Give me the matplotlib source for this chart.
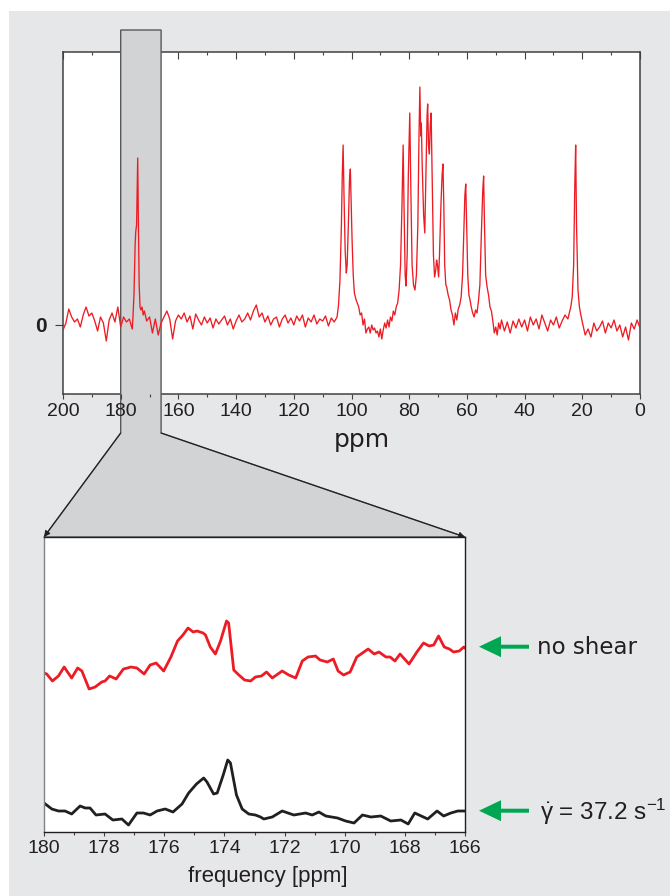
import matplotlib
matplotlib.use('Agg')
import matplotlib.pyplot as plt
from matplotlib.patches import Rectangle, Polygon, FancyArrow, FancyArrowPatch
from matplotlib.ticker import MultipleLocator

plt.rcParams['font.family'] = ['Liberation Sans', 'DejaVu Sans']
plt.rcParams['mathtext.fontset'] = 'custom'
plt.rcParams['mathtext.rm'] = 'Liberation Sans'
plt.rcParams['mathtext.it'] = 'Liberation Sans'

# ---------------- data ----------------
ppm_top = [200, 199, 198, 197, 196, 195, 194, 193, 192, 191,
           190, 189, 188, 187, 186, 185, 184, 183, 182, 181,
           180, 179, 178, 177, 176, 175.8, 175.4, 175.0, 174.8, 174.5,
           174.25, 174.1, 173.9, 173.6, 173.3, 173.0, 172.6, 172.2, 171.8, 171.0,
           170, 169, 168, 167, 166, 165, 164, 163, 162, 161,
           160, 159, 158, 157, 156, 155, 154, 153, 152, 151,
           150, 149, 148, 147, 146, 145, 144, 143, 142, 141,
           140, 139, 138, 137, 136, 135, 134, 133, 132, 131,
           130, 129, 128, 127, 126, 125, 124, 123, 122, 121,
           120, 119, 118, 117, 116, 115, 114, 113, 112, 111,
           110, 109, 108, 107, 106, 105, 104.5, 104.0, 103.5, 103.2,
           102.9, 102.6, 102.2, 101.8, 101.5, 101.0, 100.7, 100.4, 100.1, 99.8,
           99.4, 99.0, 98.5, 98.0, 97.5, 97.0, 96.5, 96.0, 95.5, 95.0,
           94.5, 94.0, 93.5, 93.0, 92.5, 92.0, 91.5, 91.0, 90.5, 90.0,
           89.5, 89.0, 88.5, 88.0, 87.5, 87.0, 86.5, 86.0, 85.5, 85.0,
           84.5, 84.0, 83.5, 83.0, 82.5, 82.1, 81.8, 81.4, 81.1, 80.7,
           80.3, 79.8, 79.4, 79.0, 78.5, 78.0, 77.5, 77.0, 76.6, 76.3,
           76.0, 75.8, 75.5, 75.0, 74.6, 74.2, 73.8, 73.6, 73.3, 73.0,
           72.7, 72.4, 72.0, 71.6, 71.2, 70.8, 70.5, 70.2, 69.8, 69.5,
           69.0, 68.6, 68.3, 68.0, 67.7, 67.3, 67.0, 66.5, 66.0, 65.5,
           65.0, 64.5, 64.0, 63.5, 63.0, 62.5, 62.0, 61.5, 61.0, 60.7,
           60.4, 60.1, 59.7, 59.3, 58.9, 58.5, 58.0, 57.5, 57.0, 56.5,
           56.0, 55.5, 55.0, 54.5, 54.2, 53.9, 53.5, 53.0, 52.5, 52.0,
           51.5, 51.0, 50.5, 50.0, 49.5, 49.0, 48.5, 48, 47, 46,
           45, 44, 43, 42, 41, 40, 39, 38, 37, 36,
           35, 34, 33, 32, 31, 30, 29, 28, 27, 26,
           25, 24.5, 24.0, 23.5, 23.0, 22.6, 22.3, 22.0, 21.5, 21.0,
           20.5, 20, 19, 18, 17, 16, 15, 14, 13, 12,
           11, 10, 9, 8, 7, 6, 5, 4, 3, 2,
           1, 0]
int_top = [-5, 2, 16, 8, 3, 6, -2, 10, 18, 9,
           12, 4, -6, 8, 2, -16, 5, 12, 3, 18,
           -2, 8, 3, 6, -4, 5, 30, 80, 93, 100,
           140, 167, 110, 40, 18, 15, 18, 10, 14, 4,
           8, -8, 6, -10, 2, 8, 14, 6, -14, 4,
           10, 6, 12, 3, 9, -4, 11, 5, 0, 8,
           2, 7, -3, 6, 1, 5, 9, 0, 6, -4,
           4, 10, 3, 6, 12, 5, 14, 20, 8, 12,
           3, 9, 0, 6, 8, -2, 6, 10, 2, 7,
           0, 9, 4, 10, -2, 7, 3, 10, 1, 6,
           4, 9, -1, 7, 3, 8, 20, 45, 100, 150,
           180, 130, 75, 52, 60, 110, 145, 156, 120, 85,
           50, 32, 26, 22, 18, 10, 12, 0, 6, -8,
           -4, -2, -8, 0, -5, -3, -8, -6, -12, -4,
           -14, -5, 2, -3, 5, -2, 8, 4, 14, 10,
           18, 22, 35, 60, 120, 180, 120, 50, 39, 70,
           150, 212, 130, 60, 40, 35, 50, 100, 190, 238,
           189, 202, 160, 110, 92, 150, 210, 221, 180, 171,
           200, 212, 140, 70, 48, 55, 65, 60, 48, 70,
           120, 150, 161, 120, 60, 40, 38, 30, 25, 15,
           10, 0, 12, 5, 16, 20, 28, 50, 100, 130,
           141, 100, 50, 30, 25, 18, 12, 8, 15, 12,
           24, 40, 90, 135, 149, 100, 50, 38, 30, 18,
           14, 4, -8, -2, -10, 2, -4, 5, -6, 3,
           -8, 4, -3, 6, -2, 5, -6, 8, 0, 6,
           -4, 10, 2, -6, 5, 0, 8, -3, 4, 10,
           6, 12, 18, 28, 60, 140, 180, 100, 35, 18,
           10, 3, -10, -4, -12, 2, -6, -2, 4, -8,
           2, -3, 5, -6, 0, -12, -2, -15, 2, -4,
           5, -3]

ppm_red = [180.0, 179.91, 179.72, 179.52, 179.33, 179.08, 178.88, 178.74, 178.5, 178.3,
           178.08, 177.97, 177.82, 177.6, 177.36, 177.22, 177.11, 176.91, 176.67, 176.47,
           176.27, 176.02, 175.78, 175.56, 175.38, 175.21, 175.04, 174.91, 174.71, 174.63,
           174.47, 174.3, 174.13, 173.93, 173.86, 173.69, 173.52, 173.33, 173.13, 172.97,
           172.77, 172.6, 172.41, 172.08, 171.86, 171.63, 171.41, 171.22, 170.97, 170.82,
           170.58, 170.38, 170.22, 170.04, 169.82, 169.6, 169.41, 169.22, 169.02, 168.86,
           168.63, 168.49, 168.33, 168.16, 167.86, 167.6, 167.38, 167.19, 167.04, 166.88,
           166.69, 166.52, 166.38, 166.19, 166.04, 166.0]
int_red = [157, 156, 149, 154, 163, 152, 162, 159, 141, 143,
           148, 149, 154, 151, 161, 162, 163, 162, 156, 165,
           167, 159, 173, 189, 195, 202, 198, 199, 197, 195,
           183, 176, 189, 209, 207, 160, 155, 150, 149, 153,
           154, 158, 152, 159, 155, 152, 169, 173, 174, 170,
           168, 171, 159, 155, 158, 173, 177, 181, 176, 178,
           173, 173, 169, 176, 166, 178, 187, 184, 185, 194,
           183, 181, 178, 179, 183, 182]

ppm_blk = [180.0, 179.74, 179.52, 179.3, 179.08, 178.8, 178.63, 178.47, 178.27, 177.97,
           177.71, 177.41, 177.19, 176.91, 176.69, 176.47, 176.24, 175.97, 175.71, 175.41,
           175.19, 174.93, 174.69, 174.58, 174.36, 174.24, 174.04, 173.89, 173.8, 173.6,
           173.41, 173.19, 172.97, 172.8, 172.69, 172.41, 172.08, 171.69, 171.3, 171.08,
           170.86, 170.63, 170.24, 169.97, 169.69, 169.41, 169.13, 168.8, 168.47, 168.13,
           167.89, 167.67, 167.24, 166.93, 166.71, 166.47, 166.24, 166.0]
int_blk = [27, 21, 19, 19, 16, 24, 22, 22, 15, 16,
           10, 11, 5, 17, 17, 15, 19, 21, 18, 26,
           37, 46, 52, 48, 36, 37, 55, 70, 67, 35,
           21, 16, 15, 13, 11, 13, 19, 15, 17, 15,
           18, 14, 12, 9, 7, 15, 13, 14, 9, 10,
           6, 17, 11, 19, 14, 17, 19, 19]

top_ticks = [200, 180, 160, 140, 120, 100, 80, 60, 40, 20, 0]
bot_ticks = [180, 178, 176, 174, 172, 170, 168, 166]
zoom_range = (180, 166)
label_top = 'ppm'
label_bot = 'frequency [ppm]'
label_red = 'no shear'
label_blk = r'$\dot{\gamma}$ = 37.2 s$^{-1}$'

# ---------------- style ----------------
RED = '#ed1c24'
BLK = '#231f20'
GREEN = '#00a651'
BG = '#e6e7e8'
BAND = '#d1d3d4'
SPINE = '#414042'

W, H = 670, 896
fig = plt.figure(figsize=(W / 100, H / 100), dpi=100)
fig.patch.set_facecolor('white')

ax_bg = fig.add_axes([0, 0, 1, 1], zorder=0)
ax_bg.set_xlim(0, W)
ax_bg.set_ylim(H, 0)
ax_bg.axis('off')
ax_bg.add_patch(Rectangle((9, 11), W, H, fc=BG, ec='none'))


def frac(l, t, r, b):
    return [l / W, 1 - b / H, (r - l) / W, (b - t) / H]


ax_top = fig.add_axes(frac(63, 52, 640, 394), zorder=1)
ax_bot = fig.add_axes(frac(44, 537, 465, 832), zorder=2)

# ---- top spectrum ----
ax_top.plot(ppm_top, int_top, color=RED, lw=0.95, zorder=3)
ax_top.set_xlim(200, 0)
ax_top.set_ylim(-69, 273)
ax_top.set_xticks(top_ticks)
ax_top.set_xticklabels([str(t) for t in top_ticks])
ax_top.xaxis.set_minor_locator(MultipleLocator(10))
ax_top.tick_params(axis='x', which='major', direction='out', length=3.6, width=0.8,
                   labelsize=14, pad=3, colors=SPINE, labelcolor=BLK)
ax_top.tick_params(axis='x', which='minor', direction='out', length=2, width=0.8, colors=SPINE)
ax_top.set_yticks([0])
ax_top.set_yticklabels(['0'], fontsize=15, fontweight='bold')
ax_top.tick_params(axis='y', direction='out', length=5.8, width=0.8, pad=6,
                   colors=SPINE, labelcolor=BLK)
ax_top.set_axisbelow(False)
for s in ax_top.spines.values():
    s.set_linewidth(1.1)
    s.set_color(SPINE)
    s.set_zorder(2)

sec = ax_top.secondary_xaxis('top')
sec.set_xticks(top_ticks)
sec.xaxis.set_minor_locator(MultipleLocator(10))
sec.tick_params(axis='x', which='major', direction='in', length=4.8, width=0.8,
                labeltop=False, colors=SPINE)
sec.tick_params(axis='x', which='minor', direction='in', length=2.2, width=0.8, colors=SPINE)
sec.spines['top'].set_visible(False)
sec.set_zorder(2)

# ---- zoom panel ----
ax_bot.plot(ppm_red, int_red, color=RED, lw=2.0, solid_joinstyle='round')
ax_bot.plot(ppm_blk, int_blk, color=BLK, lw=2.0, solid_joinstyle='round')
ax_bot.set_xlim(*zoom_range)
ax_bot.set_ylim(-2, 293)
ax_bot.set_yticks([])
ax_bot.set_xticks(bot_ticks)
ax_bot.set_xticklabels([str(t) for t in bot_ticks])
ax_bot.xaxis.set_minor_locator(MultipleLocator(1))
ax_bot.tick_params(axis='x', which='major', direction='out', length=3, width=0.8,
                   labelsize=14, pad=2.5, colors=SPINE, labelcolor=BLK)
ax_bot.tick_params(axis='x', which='minor', direction='out', length=2, width=0.8, colors=SPINE)
for s in ax_bot.spines.values():
    s.set_linewidth(1.0)
    s.set_color(BLK)
ax_bot.spines['left'].set_color('#808285')

# ---- zoom band (in pixel coords of ax_bg) ----
inv = ax_bg.transData.inverted()
bx0 = inv.transform(ax_top.transData.transform((zoom_range[0], 0)))[0]
bx1 = inv.transform(ax_top.transData.transform((zoom_range[1], 0)))[0]
cl = inv.transform(ax_bot.transAxes.transform((0, 1)))
cr = inv.transform(ax_bot.transAxes.transform((1, 1)))
band_top, band_bot = 30, 433
verts = [(bx0, band_top), (bx1, band_top), (bx1, band_bot), (cr[0], cr[1]),
         (cl[0], cl[1]), (bx0, band_bot)]
band = Polygon(verts, closed=True, fc=BAND, ec='#58595b', lw=1.0,
               transform=ax_bg.transData, clip_on=False, zorder=2.2)
ax_top.add_patch(band)
for start, end in [((bx0, band_bot), tuple(cl)), ((bx1, band_bot), tuple(cr))]:
    arr = FancyArrowPatch(start, end, arrowstyle='-|>', mutation_scale=9,
                          color=BLK, lw=0.8, shrinkA=0, shrinkB=0,
                          transform=ax_bg.transData, zorder=5)
    fig.add_artist(arr)

# ---- texts ----
ax_bg.text(362, 446.7, label_top, family='DejaVu Sans', fontsize=18,
           ha='center', va='baseline', color=BLK)
ax_bg.text(267.5, 882, label_bot, fontsize=16, ha='center', va='baseline', color=BLK)
ax_bg.text(537, 654, label_red, family='DejaVu Sans', fontsize=16.5,
           ha='left', va='baseline', color=BLK)
ax_bg.text(540, 820, label_blk, fontsize=17.5, ha='left', va='baseline', color=BLK)

for yy in (646.7, 810.7):
    ax_bg.add_patch(FancyArrow(529, yy, -50, 0, width=4, head_width=21, head_length=22,
                               length_includes_head=True, fc=GREEN, ec='none'))

fig.savefig('out.png', dpi=100, facecolor='white')
